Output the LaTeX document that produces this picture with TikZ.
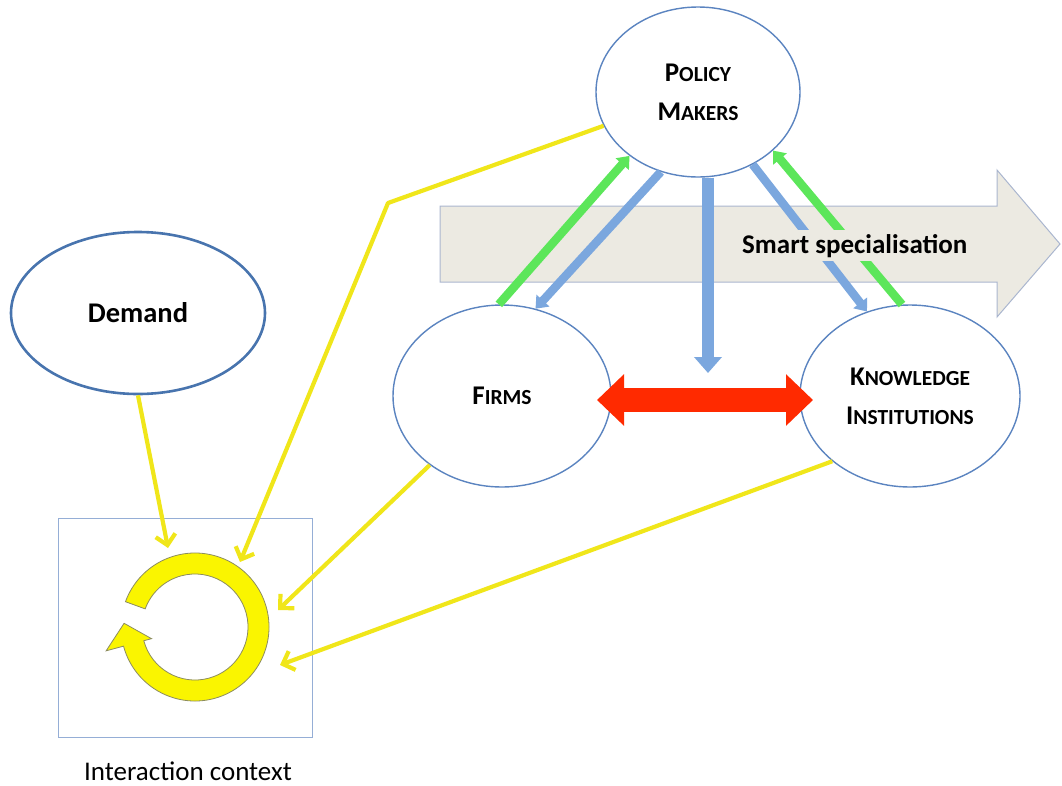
\documentclass[tikz,border=0pt]{standalone}
\usepackage{fontspec}
\setmainfont{Carlito}
\usetikzlibrary{shapes.geometric,arrows.meta,calc}

\definecolor{ellblue}{HTML}{5B84C0}
\definecolor{demblue}{HTML}{4874AE}
\definecolor{boxblue}{HTML}{95AED6}
\definecolor{flowblue}{HTML}{7BA7DE}
\definecolor{flowgreen}{HTML}{5CE65A}
\definecolor{redarrow}{HTML}{FF2A00}
\definecolor{ylw}{HTML}{F0E61A}
\definecolor{ringyellow}{HTML}{FAF500}
\definecolor{ringedge}{HTML}{8C8C60}
\definecolor{ssfill}{HTML}{ECEAE2}
\definecolor{ssedge}{HTML}{AAB6CF}

% first letter large, the rest as small capitals
\newcommand\capsword[2]{{\fontsize{27}{39}\selectfont #1}{\fontsize{21.5}{39}\selectfont #2}}

\begin{document}
\begin{tikzpicture}[x=1pt,y=-1pt,
  every node/.style={text=black},
  actor/.style={ellipse, draw=ellblue, line width=1.4pt, fill=white, inner sep=0pt,
    font=\bfseries\fontsize{27}{39}\selectfont, align=center},
  yarrow/.style={draw=ylw, line width=4.2pt, line join=round,
    -{Straight Barb[length=10pt,width=20pt]}},
  barrow/.style={draw=flowblue, line width=8.5pt, -{Triangle[length=11pt,width=17pt]}},
  garrow/.style={draw=flowgreen, line width=8.5pt, -{Triangle[length=11pt,width=17pt]}},
]
\useasboundingbox (0,0) rectangle (1062,785);

% smart specialisation band
\filldraw[fill=ssfill, draw=ssedge, line width=1pt]
  (440,206) -- (997,206) -- (997,170) -- (1060,244) -- (997,317) -- (997,282) -- (440,282) -- cycle;

% actors
\node[actor, minimum width=204pt, minimum height=170pt] (pm) at (698,92)
  {\capsword{P}{OLICY}\\\capsword{M}{AKERS}};
\node[actor, minimum width=218pt, minimum height=182pt] (fi) at (502,396)
  {\capsword{F}{IRMS}};
\node[actor, minimum width=220pt, minimum height=182pt] (ki) at (910,396)
  {\capsword{K}{NOWLEDGE}\\\capsword{I}{NSTITUTIONS}};
\node[actor, draw=demblue, line width=2.6pt, minimum width=254pt, minimum height=162pt,
  font=\bfseries\fontsize{28.5}{32}\selectfont] (dm) at (138,313) {Demand};

% policy flows
\draw[garrow] (fi.92) -- (pm.223);
\draw[barrow] (pm.245) -- (fi.69);
\draw[barrow] (pm.307) -- (ki.117);
\draw[garrow] (ki.95) -- (pm.322);
\coordinate (ptip) at (708,373);
\draw[barrow, line width=12pt, -{Triangle[length=16pt,width=27pt]}] (pm.south -| ptip) -- (ptip);

\node[fill=ssfill, inner xsep=2pt, inner ysep=4pt, anchor=base west,
  font=\bfseries\fontsize{27}{30}\selectfont] (ss) at (740,253) {Smart specialisation};

% firms <-> knowledge institutions
\coordinate (ra) at (597,400);
\coordinate (rb) at (813,400);
\draw[draw=redarrow, line width=24pt,
  {Triangle[length=27pt,width=50pt]}-{Triangle[length=27pt,width=50pt]}] (ra) -- (rb);

% interaction context
\node[draw=boxblue, line width=1pt, minimum width=254pt, minimum height=219pt, inner sep=0pt]
  (ctx) at (185,627.5) {};
\node[font=\fontsize{27}{30}\selectfont] (ctxlabel) at (188,771) {Interaction context};
\filldraw[fill=ringyellow, draw=ringedge, line width=0.8pt, shift={(195,627)}]
  (-160:74) arc[start angle=-160, end angle=165, radius=74]
  -- (165:92) -- (183:71) -- (165:45) -- (165:53)
  arc[start angle=165, end angle=-160, radius=53] -- cycle;

% contributions to the interaction context
\coordinate (t1) at (168,548);
\coordinate (bend) at (388,203);
\coordinate (t2) at (240,562);
\coordinate (t3) at (278,610);
\coordinate (t4) at (280,665);
\draw[yarrow] (dm.south) -- (t1);
\draw[yarrow] (pm) -- (bend) -- (t2);
\draw[yarrow] (fi) -- (t3);
\draw[yarrow] (ki.220) -- (t4);
\end{tikzpicture}
\end{document}
